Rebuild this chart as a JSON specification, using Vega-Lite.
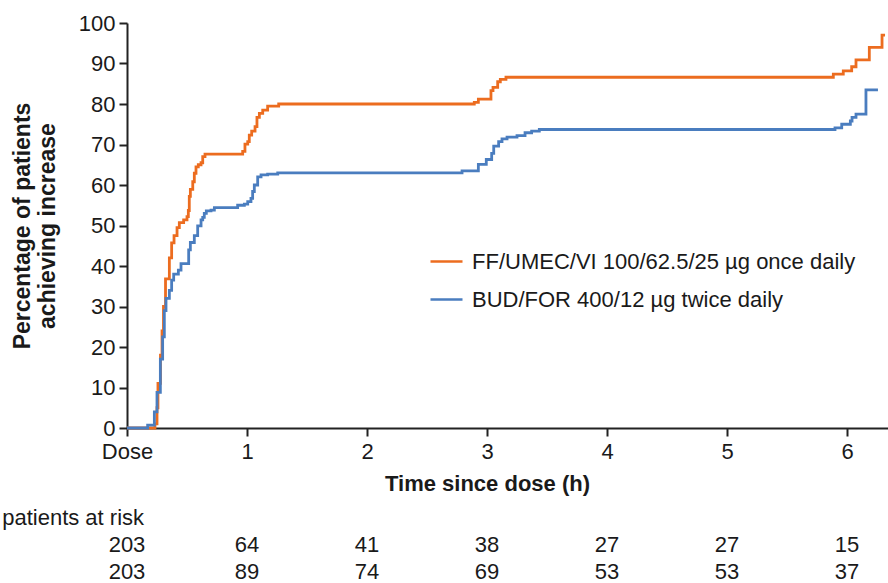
{
  "$schema": "https://vega.github.io/schema/vega-lite/v6.json",
  "padding": {"left": 2, "top": 12, "right": 0, "bottom": 0},
  "spacing": 10,
  "config": {
    "view": {"stroke": null},
    "font": "Liberation Sans",
    "axis": {
      "grid": false,
      "domainColor": "#222222",
      "domainWidth": 2,
      "tickColor": "#222222",
      "tickWidth": 2,
      "tickSize": 8,
      "labelFont": "Liberation Sans",
      "labelFontSize": 22,
      "labelColor": "#1a1a1a",
      "titleFont": "Liberation Sans",
      "titleFontSize": 22,
      "titleFontWeight": "bold",
      "titleColor": "#1a1a1a"
    },
    "text": {"font": "Liberation Sans"}
  },
  "datasets": {
    "curves": [
      {"arm": "FF/UMEC/VI 100/62.5/25 µg once daily", "t": 0, "pct": 0},
      {"arm": "FF/UMEC/VI 100/62.5/25 µg once daily", "t": 0.233, "pct": 1},
      {"arm": "FF/UMEC/VI 100/62.5/25 µg once daily", "t": 0.25, "pct": 5},
      {"arm": "FF/UMEC/VI 100/62.5/25 µg once daily", "t": 0.258, "pct": 11},
      {"arm": "FF/UMEC/VI 100/62.5/25 µg once daily", "t": 0.279, "pct": 18},
      {"arm": "FF/UMEC/VI 100/62.5/25 µg once daily", "t": 0.292, "pct": 24},
      {"arm": "FF/UMEC/VI 100/62.5/25 µg once daily", "t": 0.304, "pct": 30},
      {"arm": "FF/UMEC/VI 100/62.5/25 µg once daily", "t": 0.321, "pct": 36.8},
      {"arm": "FF/UMEC/VI 100/62.5/25 µg once daily", "t": 0.353, "pct": 42},
      {"arm": "FF/UMEC/VI 100/62.5/25 µg once daily", "t": 0.372, "pct": 45.7},
      {"arm": "FF/UMEC/VI 100/62.5/25 µg once daily", "t": 0.392, "pct": 47.5},
      {"arm": "FF/UMEC/VI 100/62.5/25 µg once daily", "t": 0.417, "pct": 49.5},
      {"arm": "FF/UMEC/VI 100/62.5/25 µg once daily", "t": 0.436, "pct": 50.7},
      {"arm": "FF/UMEC/VI 100/62.5/25 µg once daily", "t": 0.472, "pct": 51.4},
      {"arm": "FF/UMEC/VI 100/62.5/25 µg once daily", "t": 0.5, "pct": 52.2},
      {"arm": "FF/UMEC/VI 100/62.5/25 µg once daily", "t": 0.511, "pct": 53.7},
      {"arm": "FF/UMEC/VI 100/62.5/25 µg once daily", "t": 0.519, "pct": 57.2},
      {"arm": "FF/UMEC/VI 100/62.5/25 µg once daily", "t": 0.528, "pct": 58.9},
      {"arm": "FF/UMEC/VI 100/62.5/25 µg once daily", "t": 0.548, "pct": 60.8},
      {"arm": "FF/UMEC/VI 100/62.5/25 µg once daily", "t": 0.561, "pct": 62.9},
      {"arm": "FF/UMEC/VI 100/62.5/25 µg once daily", "t": 0.575, "pct": 64.5},
      {"arm": "FF/UMEC/VI 100/62.5/25 µg once daily", "t": 0.594, "pct": 65},
      {"arm": "FF/UMEC/VI 100/62.5/25 µg once daily", "t": 0.617, "pct": 65.5},
      {"arm": "FF/UMEC/VI 100/62.5/25 µg once daily", "t": 0.631, "pct": 67},
      {"arm": "FF/UMEC/VI 100/62.5/25 µg once daily", "t": 0.65, "pct": 67.6},
      {"arm": "FF/UMEC/VI 100/62.5/25 µg once daily", "t": 0.964, "pct": 68.3},
      {"arm": "FF/UMEC/VI 100/62.5/25 µg once daily", "t": 0.983, "pct": 70.1},
      {"arm": "FF/UMEC/VI 100/62.5/25 µg once daily", "t": 1.006, "pct": 70.7},
      {"arm": "FF/UMEC/VI 100/62.5/25 µg once daily", "t": 1.019, "pct": 72.3},
      {"arm": "FF/UMEC/VI 100/62.5/25 µg once daily", "t": 1.039, "pct": 73.3},
      {"arm": "FF/UMEC/VI 100/62.5/25 µg once daily", "t": 1.067, "pct": 74.4},
      {"arm": "FF/UMEC/VI 100/62.5/25 µg once daily", "t": 1.083, "pct": 76.7},
      {"arm": "FF/UMEC/VI 100/62.5/25 µg once daily", "t": 1.103, "pct": 77.7},
      {"arm": "FF/UMEC/VI 100/62.5/25 µg once daily", "t": 1.131, "pct": 78.5},
      {"arm": "FF/UMEC/VI 100/62.5/25 µg once daily", "t": 1.172, "pct": 79.5},
      {"arm": "FF/UMEC/VI 100/62.5/25 µg once daily", "t": 1.264, "pct": 80},
      {"arm": "FF/UMEC/VI 100/62.5/25 µg once daily", "t": 2.894, "pct": 80.4},
      {"arm": "FF/UMEC/VI 100/62.5/25 µg once daily", "t": 2.928, "pct": 81.2},
      {"arm": "FF/UMEC/VI 100/62.5/25 µg once daily", "t": 3.033, "pct": 83.3},
      {"arm": "FF/UMEC/VI 100/62.5/25 µg once daily", "t": 3.05, "pct": 84.1},
      {"arm": "FF/UMEC/VI 100/62.5/25 µg once daily", "t": 3.089, "pct": 85.5},
      {"arm": "FF/UMEC/VI 100/62.5/25 µg once daily", "t": 3.111, "pct": 86.1},
      {"arm": "FF/UMEC/VI 100/62.5/25 µg once daily", "t": 3.158, "pct": 86.6},
      {"arm": "FF/UMEC/VI 100/62.5/25 µg once daily", "t": 5.886, "pct": 87.4},
      {"arm": "FF/UMEC/VI 100/62.5/25 µg once daily", "t": 5.969, "pct": 88.2},
      {"arm": "FF/UMEC/VI 100/62.5/25 µg once daily", "t": 6.039, "pct": 89.2},
      {"arm": "FF/UMEC/VI 100/62.5/25 µg once daily", "t": 6.075, "pct": 90.9},
      {"arm": "FF/UMEC/VI 100/62.5/25 µg once daily", "t": 6.186, "pct": 94},
      {"arm": "FF/UMEC/VI 100/62.5/25 µg once daily", "t": 6.292, "pct": 97},
      {"arm": "FF/UMEC/VI 100/62.5/25 µg once daily", "t": 6.317, "pct": 97},
      {"arm": "BUD/FOR 400/12 µg twice daily", "t": 0, "pct": 0},
      {"arm": "BUD/FOR 400/12 µg twice daily", "t": 0.172, "pct": 0.7},
      {"arm": "BUD/FOR 400/12 µg twice daily", "t": 0.228, "pct": 4},
      {"arm": "BUD/FOR 400/12 µg twice daily", "t": 0.25, "pct": 8.8},
      {"arm": "BUD/FOR 400/12 µg twice daily", "t": 0.278, "pct": 17},
      {"arm": "BUD/FOR 400/12 µg twice daily", "t": 0.297, "pct": 22.5},
      {"arm": "BUD/FOR 400/12 µg twice daily", "t": 0.311, "pct": 29},
      {"arm": "BUD/FOR 400/12 µg twice daily", "t": 0.325, "pct": 32},
      {"arm": "BUD/FOR 400/12 µg twice daily", "t": 0.353, "pct": 34},
      {"arm": "BUD/FOR 400/12 µg twice daily", "t": 0.372, "pct": 36.5},
      {"arm": "BUD/FOR 400/12 µg twice daily", "t": 0.389, "pct": 38},
      {"arm": "BUD/FOR 400/12 µg twice daily", "t": 0.428, "pct": 39},
      {"arm": "BUD/FOR 400/12 µg twice daily", "t": 0.45, "pct": 40.6},
      {"arm": "BUD/FOR 400/12 µg twice daily", "t": 0.514, "pct": 44},
      {"arm": "BUD/FOR 400/12 µg twice daily", "t": 0.528, "pct": 45.8},
      {"arm": "BUD/FOR 400/12 µg twice daily", "t": 0.561, "pct": 47.5},
      {"arm": "BUD/FOR 400/12 µg twice daily", "t": 0.589, "pct": 49.9},
      {"arm": "BUD/FOR 400/12 µg twice daily", "t": 0.617, "pct": 51.4},
      {"arm": "BUD/FOR 400/12 µg twice daily", "t": 0.631, "pct": 52},
      {"arm": "BUD/FOR 400/12 µg twice daily", "t": 0.644, "pct": 53},
      {"arm": "BUD/FOR 400/12 µg twice daily", "t": 0.661, "pct": 53.6},
      {"arm": "BUD/FOR 400/12 µg twice daily", "t": 0.7, "pct": 53.8},
      {"arm": "BUD/FOR 400/12 µg twice daily", "t": 0.728, "pct": 54.4},
      {"arm": "BUD/FOR 400/12 µg twice daily", "t": 0.922, "pct": 55},
      {"arm": "BUD/FOR 400/12 µg twice daily", "t": 0.978, "pct": 55.3},
      {"arm": "BUD/FOR 400/12 µg twice daily", "t": 1.006, "pct": 55.9},
      {"arm": "BUD/FOR 400/12 µg twice daily", "t": 1.033, "pct": 56.7},
      {"arm": "BUD/FOR 400/12 µg twice daily", "t": 1.047, "pct": 58.4},
      {"arm": "BUD/FOR 400/12 µg twice daily", "t": 1.061, "pct": 60},
      {"arm": "BUD/FOR 400/12 µg twice daily", "t": 1.089, "pct": 62},
      {"arm": "BUD/FOR 400/12 µg twice daily", "t": 1.117, "pct": 62.5},
      {"arm": "BUD/FOR 400/12 µg twice daily", "t": 1.172, "pct": 62.7},
      {"arm": "BUD/FOR 400/12 µg twice daily", "t": 1.256, "pct": 63},
      {"arm": "BUD/FOR 400/12 µg twice daily", "t": 2.792, "pct": 63.5},
      {"arm": "BUD/FOR 400/12 µg twice daily", "t": 2.928, "pct": 65.1},
      {"arm": "BUD/FOR 400/12 µg twice daily", "t": 2.994, "pct": 66.3},
      {"arm": "BUD/FOR 400/12 µg twice daily", "t": 3.039, "pct": 67.8},
      {"arm": "BUD/FOR 400/12 µg twice daily", "t": 3.056, "pct": 69.6},
      {"arm": "BUD/FOR 400/12 µg twice daily", "t": 3.097, "pct": 70.7},
      {"arm": "BUD/FOR 400/12 µg twice daily", "t": 3.125, "pct": 71.4},
      {"arm": "BUD/FOR 400/12 µg twice daily", "t": 3.167, "pct": 71.8},
      {"arm": "BUD/FOR 400/12 µg twice daily", "t": 3.25, "pct": 72.2},
      {"arm": "BUD/FOR 400/12 µg twice daily", "t": 3.317, "pct": 72.9},
      {"arm": "BUD/FOR 400/12 µg twice daily", "t": 3.372, "pct": 73.3},
      {"arm": "BUD/FOR 400/12 µg twice daily", "t": 3.436, "pct": 73.7},
      {"arm": "BUD/FOR 400/12 µg twice daily", "t": 5.9, "pct": 74.1},
      {"arm": "BUD/FOR 400/12 µg twice daily", "t": 5.956, "pct": 75},
      {"arm": "BUD/FOR 400/12 µg twice daily", "t": 6.028, "pct": 75.8},
      {"arm": "BUD/FOR 400/12 µg twice daily", "t": 6.042, "pct": 76.7},
      {"arm": "BUD/FOR 400/12 µg twice daily", "t": 6.075, "pct": 77.5},
      {"arm": "BUD/FOR 400/12 µg twice daily", "t": 6.158, "pct": 83.5},
      {"arm": "BUD/FOR 400/12 µg twice daily", "t": 6.258, "pct": 83.5}
    ],
    "risk": [
      {"row": "FF", "t": 0, "n": 203},
      {"row": "FF", "t": 1, "n": 64},
      {"row": "FF", "t": 2, "n": 41},
      {"row": "FF", "t": 3, "n": 38},
      {"row": "FF", "t": 4, "n": 27},
      {"row": "FF", "t": 5, "n": 27},
      {"row": "FF", "t": 6, "n": 15},
      {"row": "BUD", "t": 0, "n": 203},
      {"row": "BUD", "t": 1, "n": 89},
      {"row": "BUD", "t": 2, "n": 74},
      {"row": "BUD", "t": 3, "n": 69},
      {"row": "BUD", "t": 4, "n": 53},
      {"row": "BUD", "t": 5, "n": 53},
      {"row": "BUD", "t": 6, "n": 37}
    ]
  },
  "vconcat": [
    {
      "width": 762,
      "height": 405,
      "data": {"name": "curves"},
      "encoding": {
        "x": {
          "field": "t",
          "type": "quantitative",
          "scale": {"domain": [0, 6.35], "nice": false, "zero": false},
          "axis": {
            "values": [0, 1, 2, 3, 4, 5, 6],
            "labelExpr": "datum.value == 0 ? 'Dose' : datum.label",
            "labelPadding": 5,
            "labelFlush": false,
            "title": "Time since dose (h)",
            "titlePadding": 11,
            "titleX": 360
          }
        },
        "y": {
          "field": "pct",
          "type": "quantitative",
          "scale": {"domain": [0, 100], "nice": false},
          "axis": {
            "values": [0, 10, 20, 30, 40, 50, 60, 70, 80, 90, 100],
            "labelPadding": 4,
            "title": ["Percentage of patients", "achieving increase"],
            "titleFontSize": 23,
            "titleLineHeight": 25,
            "titlePadding": 19
          }
        },
        "color": {
          "field": "arm",
          "type": "nominal",
          "scale": {
            "domain": ["FF/UMEC/VI 100/62.5/25 µg once daily", "BUD/FOR 400/12 µg twice daily"],
            "range": ["#EC6C1F", "#4A7DBF"]
          },
          "legend": {
            "title": null,
            "orient": "none",
            "legendX": 302,
            "legendY": 221,
            "symbolType": "stroke",
            "symbolSize": 1024,
            "symbolStrokeWidth": 2.5,
            "labelFontSize": 22,
            "labelColor": "#1a1a1a",
            "labelFont": "Liberation Sans",
            "labelLimit": 0,
            "labelOffset": 8,
            "rowPadding": 9
          }
        }
      },
      "layer": [
        {
          "transform": [{"filter": "datum.arm == 'FF/UMEC/VI 100/62.5/25 µg once daily'"}],
          "mark": {"type": "line", "interpolate": "step-after", "strokeWidth": 2.8}
        },
        {
          "transform": [{"filter": "datum.arm == 'BUD/FOR 400/12 µg twice daily'"}],
          "mark": {"type": "line", "interpolate": "step-after", "strokeWidth": 2.8}
        }
      ]
    },
    {
      "width": 762,
      "height": 81,
      "layer": [
        {
          "data": {"name": "risk"},
          "mark": {"type": "text", "fontSize": 22, "color": "#1a1a1a"},
          "encoding": {
            "x": {"field": "t", "type": "quantitative", "scale": {"domain": [0, 6.35], "nice": false, "zero": false}, "axis": null},
            "y": {"field": "row", "type": "nominal", "scale": {"type": "point", "domain": ["header", "FF", "BUD"], "padding": 0.5}, "axis": null},
            "text": {"field": "n", "type": "quantitative"}
          }
        },
        {
          "data": {"values": [{"label": "patients at risk"}]},
          "mark": {"type": "text", "fontSize": 22, "align": "left", "color": "#1a1a1a"},
          "encoding": {
            "x": {"datum": -1.04, "type": "quantitative"},
            "y": {"datum": "header", "type": "nominal"},
            "text": {"field": "label", "type": "nominal"}
          }
        }
      ]
    }
  ]
}
